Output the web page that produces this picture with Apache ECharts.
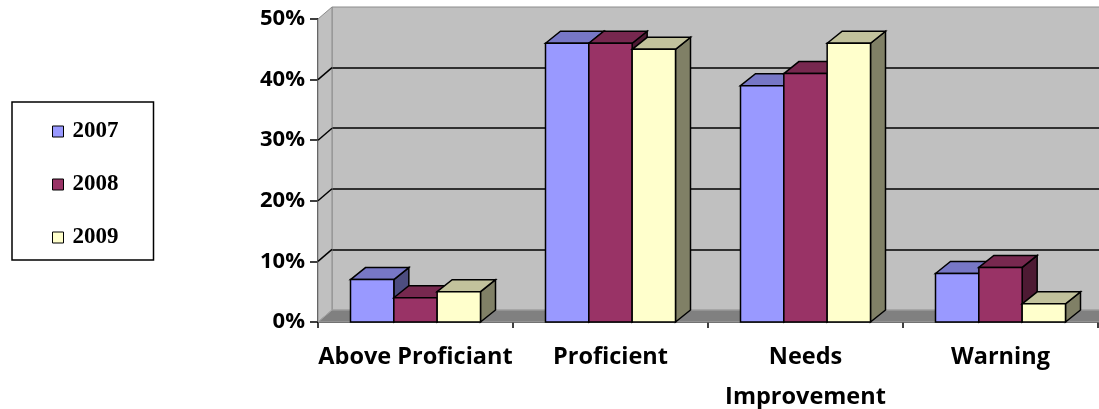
<!DOCTYPE html>
<html>
<head>
<meta charset="utf-8">
<script src="https://cdn.jsdelivr.net/npm/echarts@6/dist/echarts.min.js"></script>
<style>
  html, body { margin: 0; padding: 0; background: #fff; }
  #chart { width: 1099px; height: 409px; }
</style>
</head>
<body>
<div id="chart"></div>
<script>
// Performance levels and the share of students in each, by year
const categories = ['Above Proficiant', 'Proficient', 'Needs\nImprovement', 'Warning'];
const years = ['2007', '2008', '2009'];
const values2007 = [0.07, 0.46, 0.39, 0.08];
const values2008 = [0.04, 0.46, 0.41, 0.09];
const values2009 = [0.05, 0.45, 0.46, 0.03];
const axisMin = 0;
const axisMax = 0.5;
const axisStep = 0.1;

// Face colours for each year's boxes: front, top, right side
const palette = [
  { front: '#9999ff', top: '#7777c6', side: '#4d4d80' },
  { front: '#993366', top: '#77284f', side: '#4d1a33' },
  { front: '#ffffcc', top: '#c2c29c', side: '#808066' }
];

// Pseudo-3D depth offsets (pixels)
const WALL_DX = 14, WALL_DY = -12;
const BAR_DX = 15, BAR_DY = -12;
const EDGE = { stroke: '#000', lineWidth: 1.5 };
const LABEL_FONT = '"Open Sans", sans-serif';

function boxRenderer(slot) {
  return function (params, api) {
    const cat = api.value(0);
    const v = api.value(1);
    const base = api.coord([cat, 0]);
    const top = api.coord([cat, v]);
    const band = api.size([1, 0])[0];
    const bw = band / 4.5;
    const x0 = base[0] - 1.5 * bw + slot * bw;
    const x1 = x0 + bw;
    const yb = base[1], yt = top[1];
    const c = palette[slot];
    return {
      type: 'group',
      children: [
        { type: 'polygon', shape: { points: [[x1, yt], [x1 + BAR_DX, yt + BAR_DY], [x1 + BAR_DX, yb + BAR_DY], [x1, yb]] },
          style: Object.assign({ fill: c.side }, EDGE) },
        { type: 'polygon', shape: { points: [[x0, yt], [x0 + BAR_DX, yt + BAR_DY], [x1 + BAR_DX, yt + BAR_DY], [x1, yt]] },
          style: Object.assign({ fill: c.top }, EDGE) },
        { type: 'rect', shape: { x: x0, y: yt, width: bw, height: yb - yt },
          style: Object.assign({ fill: c.front }, EDGE) }
      ]
    };
  };
}

// Floor and left side wall of the plot box
function frameRenderer(params, api) {
  const cs = params.coordSys;
  const x = cs.x, y = cs.y, w = cs.width, h = cs.height;
  const children = [
    { type: 'polygon', shape: { points: [[x, y], [x + WALL_DX, y + WALL_DY], [x + WALL_DX, y + h + WALL_DY], [x, y + h]] },
      style: { fill: '#c0c0c0', stroke: '#8c8c8c', lineWidth: 1 } },
    { type: 'polygon', shape: { points: [[x, y + h], [x + WALL_DX, y + h + WALL_DY], [x + w + WALL_DX + 20, y + h + WALL_DY], [x + w + 20, y + h]] },
      style: { fill: '#808080', stroke: '#a6a6a6', lineWidth: 1 } }
  ];
  for (let v = axisMin + axisStep; v < axisMax - 1e-9; v += axisStep) {
    const p = api.coord([0, v]);
    children.push({ type: 'line', shape: { x1: x, y1: p[1], x2: x + WALL_DX, y2: p[1] + WALL_DY },
      style: { stroke: '#000', lineWidth: 1.5 } });
  }
  return { type: 'group', children: children };
}

const chart = echarts.init(document.getElementById('chart'), null, { renderer: 'canvas' });
const seriesValues = [values2007, values2008, values2009];

const option = {
  animation: false,
  backgroundColor: '#ffffff',
  legend: {
    orient: 'vertical',
    left: 12,
    top: 102,
    borderColor: '#000',
    borderWidth: 1.5,
    padding: [18, 35, 11, 40],
    itemGap: 30,
    itemWidth: 11,
    itemHeight: 11,
    icon: 'rect',
    textStyle: { fontFamily: 'Liberation Serif', fontWeight: 'bold', fontSize: 23, color: '#000', padding: [0, 0, 0, 4] },
    data: years.map((y, i) => ({ name: y, itemStyle: { color: palette[i].front, borderColor: '#000', borderWidth: 1 } }))
  },
  grid: [
    // back wall
    { left: 332, right: -13, top: 7, bottom: 99, outerBoundsMode: 'none', containLabel: false,
      show: true, backgroundColor: '#c0c0c0', borderColor: '#8c8c8c', borderWidth: 1 },
    // front plane
    { left: 318, right: 1, top: 19, bottom: 87, outerBoundsMode: 'none', containLabel: false }
  ],
  xAxis: [
    { gridIndex: 0, type: 'category', data: categories, show: false },
    {
      gridIndex: 1, type: 'category', data: categories,
      axisLine: { lineStyle: { color: '#000', width: 1.5 } },
      axisTick: { show: true, interval: 0, length: 6, lineStyle: { color: '#000', width: 1.5 } },
      axisLabel: { interval: 0, fontFamily: LABEL_FONT, fontWeight: 'bold', fontSize: 23.5, color: '#000', margin: 15, lineHeight: 40 }
    }
  ],
  yAxis: [
    {
      gridIndex: 0, type: 'value', min: axisMin, max: axisMax, interval: axisStep,
      axisLine: { show: false }, axisTick: { show: false }, axisLabel: { show: false },
      splitLine: { show: true, showMinLine: false, showMaxLine: false, lineStyle: { color: '#000', width: 1.5 } }
    },
    {
      gridIndex: 1, type: 'value', min: axisMin, max: axisMax, interval: axisStep,
      axisLine: { show: true, lineStyle: { color: '#000', width: 1.5 } },
      axisTick: { show: true, length: 8, lineStyle: { color: '#000', width: 1.5 } },
      axisLabel: { fontFamily: LABEL_FONT, fontWeight: 'bold', fontSize: 22, color: '#000', margin: 13,
        padding: [5, 0, 0, 0],
        formatter: v => Math.round(v * 100) + '%' },
      splitLine: { show: false }
    }
  ],
  series: [
    {
      type: 'custom', name: 'frame', xAxisIndex: 1, yAxisIndex: 1,
      data: [[0, 0]], renderItem: frameRenderer, silent: true, z: 1
    }
  ].concat(years.map((y, i) => ({
    type: 'custom', name: y, xAxisIndex: 1, yAxisIndex: 1, z: 2,
    itemStyle: { color: palette[i].front },
    renderItem: boxRenderer(i),
    data: seriesValues[i].map((v, k) => [k, v])
  })))
};

chart.setOption(option);
</script>
</body>
</html>
